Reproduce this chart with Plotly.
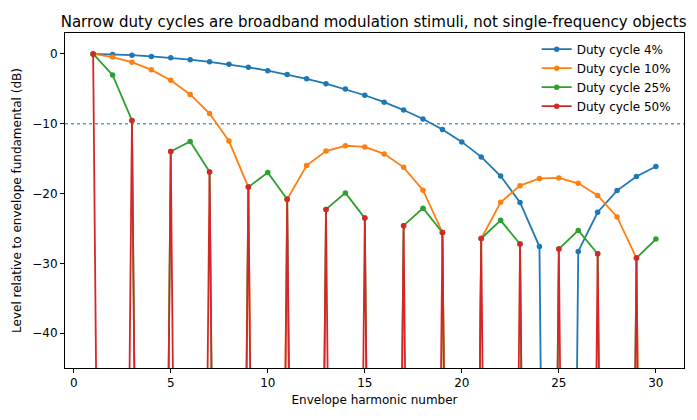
import plotly.graph_objects as go

harmonics = list(range(1, 31))

# Level in dB relative to fundamental; -300 stands for spectral nulls (far below the axis)
duty_4 = [0.0, -0.07, -0.18, -0.35, -0.56, -0.82, -1.13, -1.49, -1.91, -2.40,
          -2.94, -3.56, -4.26, -5.04, -5.92, -6.91, -8.04, -9.33, -10.83, -12.60,
          -14.75, -17.49, -21.28, -27.60, -300.0, -28.30, -22.68, -19.58, -17.55, -16.12]
duty_10 = [0.0, -0.44, -1.18, -2.28, -3.78, -5.80, -8.54, -12.48, -19.08, -300.0,
           -20.83, -16.00, -13.92, -13.16, -13.32, -14.32, -16.25, -19.52, -25.58, -300.0,
           -26.44, -21.26, -18.87, -17.84, -17.76, -18.54, -20.27, -23.36, -29.25, -300.0]
duty_25 = [0.0, -3.01, -9.54, -300.0, -13.98, -12.55, -16.90, -300.0, -19.08, -16.99,
           -20.83, -300.0, -22.28, -19.91, -23.52, -300.0, -24.61, -22.10, -25.58, -300.0,
           -26.44, -23.84, -27.23, -300.0, -27.96, -25.29, -28.63, -300.0, -29.25, -26.53]
duty_50 = [0.0, -300.0, -9.54, -300.0, -13.98, -300.0, -16.90, -300.0, -19.08, -300.0,
           -20.83, -300.0, -22.28, -300.0, -23.52, -300.0, -24.61, -300.0, -25.58, -300.0,
           -26.44, -300.0, -27.23, -300.0, -27.96, -300.0, -28.63, -300.0, -29.25, -300.0]

series = [
    ("Duty cycle 4%", duty_4, "#1f77b4"),
    ("Duty cycle 10%", duty_10, "#ff7f0e"),
    ("Duty cycle 25%", duty_25, "#2ca02c"),
    ("Duty cycle 50%", duty_50, "#d62728"),
]
threshold_db = -10

font = "DejaVu Sans"
fig = go.Figure()
for name, vals, color in series:
    fig.add_trace(go.Scatter(
        x=harmonics, y=vals, name=name, mode="lines+markers",
        line=dict(color=color, width=1.8),
        marker=dict(color=color, size=5.5),
    ))

fig.add_shape(type="line", xref="paper", x0=0, x1=1, yref="y", y0=threshold_db, y1=threshold_db,
              line=dict(color="#5a9fd4", width=1.3, dash="dot"), layer="below")

axis_common = dict(showline=True, linecolor="black", linewidth=1, mirror=True,
                   ticks="outside", ticklen=4, tickwidth=1, tickcolor="black",
                   showgrid=False, zeroline=False,
                   tickfont=dict(family=font, size=12, color="black"))

fig.update_layout(
    width=697, height=420,
    margin=dict(l=65, r=13, t=33, b=52),
    paper_bgcolor="white", plot_bgcolor="white",
    font=dict(family=font, size=12, color="black"),
    title=dict(text="Narrow duty cycles are broadband modulation stimuli, not single-frequency objects",
               x=0.536, xanchor="center", y=0.948, yanchor="middle",
               font=dict(family=font, size=15, color="black")),
    xaxis=dict(range=[-0.45, 31.45], dtick=5, tick0=0,
               title=dict(text="Envelope harmonic number", font=dict(family=font, size=12), standoff=6),
               **axis_common),
    yaxis=dict(range=[-45, 3], dtick=10, tick0=0,
               title=dict(text="Level relative to envelope fundamental (dB)", font=dict(family=font, size=12), standoff=8),
               **axis_common),
    legend=dict(x=0.762, y=0.995, xanchor="left", yanchor="top", bgcolor="rgba(0,0,0,0)",
                font=dict(family=font, size=12), tracegroupgap=0),
    showlegend=True,
)

fig.write_html("out.html")
